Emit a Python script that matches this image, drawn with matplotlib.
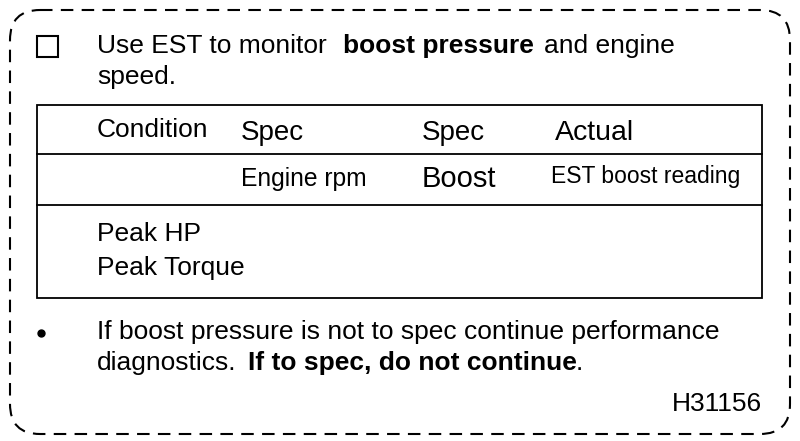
import matplotlib
matplotlib.use("Agg")
import matplotlib.pyplot as plt
from matplotlib.patches import FancyBboxPatch, Rectangle

plt.rcParams["font.family"] = ["Liberation Sans", "DejaVu Sans"]

HEADER = ["Condition", "Spec", "Spec", "Actual"]
SUBHEADER = ["Engine rpm", "Boost", "EST boost reading"]
CONDITIONS = ["Peak HP", "Peak Torque"]
LABEL = "H31156"

fig = plt.figure(figsize=(8, 4.41), dpi=100)
ax = fig.add_axes([0, 0, 1, 1])
ax.set_xlim(0, 800)
ax.set_ylim(441, 0)
ax.axis("off")

ax.add_patch(FancyBboxPatch((10, 10), 780, 424, boxstyle="round,pad=0,rounding_size=30",
                            fill=False, ec="black", lw=1.5, ls=(0, (6, 4))))
ax.add_patch(Rectangle((37, 36), 21, 21, fill=False, ec="black", lw=1.5))

fs = 19
def t(x, y, s, **kw):
    kw.setdefault("fontsize", fs)
    ax.text(x, y, s, va="center", ha=kw.pop("ha", "left"), **kw)

t(97, 46, "Use EST to monitor")
t(343, 46, "boost pressure", fontweight="bold")
t(544, 46, "and engine")
t(97, 77, "speed.")

ax.add_patch(Rectangle((37, 105), 725, 193, fill=False, ec="black", lw=1.3))
ax.plot([37, 762], [154, 154], color="black", lw=1.3)
ax.plot([37, 762], [205, 205], color="black", lw=1.3)

for x, y, s in zip([97, 241, 422, 555], [130, 133, 133, 133], HEADER):
    t(x, y, s, fontsize=20.5 if s == "Actual" else (fs if s == "Condition" else 20))
t(241, 179, SUBHEADER[0], fontsize=17.7)
t(422, 179, SUBHEADER[1], fontsize=21)
t(551, 177, SUBHEADER[2], fontsize=16.5)
for y, s in zip([234, 268], CONDITIONS):
    t(97, y, s)

ax.plot([41], [333], "o", color="black", ms=5)
t(97, 332, "If boost pressure is not to spec continue performance")
t(97, 363, "diagnostics.")
t(248, 363, "If to spec, do not continue", fontweight="bold")
t(576, 363, ".")
t(762, 404, LABEL, ha="right")

fig.savefig("out.png", dpi=100)
